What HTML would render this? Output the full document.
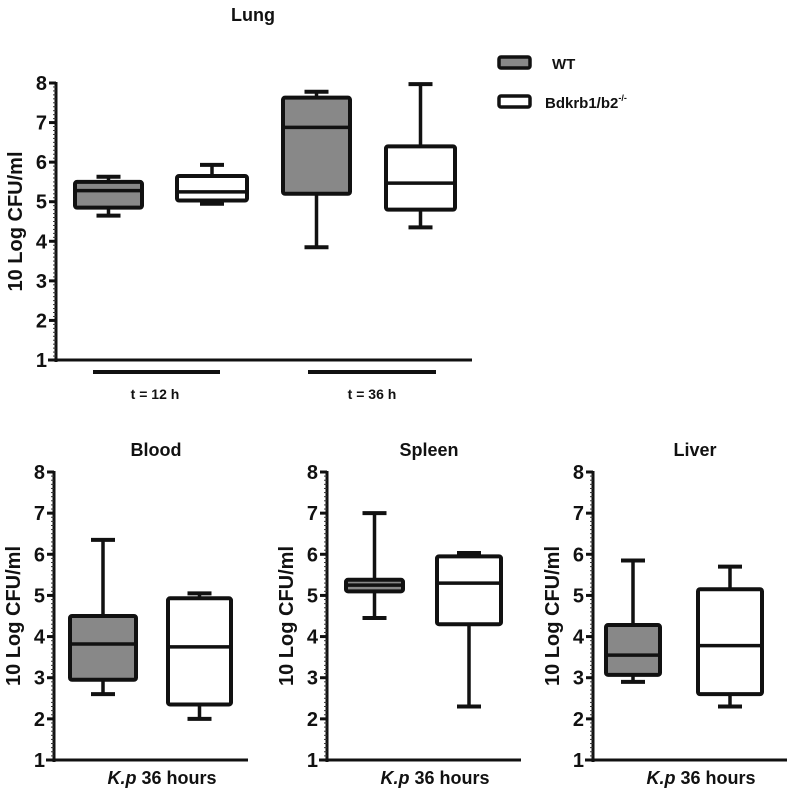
<!DOCTYPE html>
<html><head><meta charset="utf-8"><style>
body{margin:0;background:#fff;}
svg text{font-family:"Liberation Sans",Arial,sans-serif;font-weight:bold;fill:#111;}
</style></head><body>
<svg id="c" width="787" height="794" xmlns="http://www.w3.org/2000/svg"></svg>
<script>
// [min, q1, median, q3, max]
const lungGroups = ["WT 12h","KO 12h","WT 36h","KO 36h"];
const lungStats = [[4.65,4.85,5.28,5.5,5.63],[4.95,5.03,5.25,5.65,5.93],[3.85,5.2,6.88,7.63,7.78],[4.35,4.8,5.47,6.4,7.97]];
const bloodStats = [[2.6,2.95,3.82,4.5,6.35],[2.0,2.35,3.75,4.93,5.05]];
const spleenStats = [[4.45,5.1,5.25,5.38,7.0],[2.3,4.3,5.3,5.95,6.03]];
const liverStats = [[2.9,3.07,3.55,4.28,5.85],[2.3,2.6,3.78,5.15,5.7]];
const yTicks = [1,2,3,4,5,6,7,8];

const svg=document.getElementById('c');
const NS='http://www.w3.org/2000/svg';
function mk(tag,attrs,parent){const e=document.createElementNS(NS,tag);for(const k in attrs)e.setAttribute(k,attrs[k]);(parent||svg).appendChild(e);return e;}

function panel(name,cfg,stats,groupNames){
  const g=mk('g',{});
  
  
  const y=v=>cfg.y1+(cfg.y8-cfg.y1)*(v-1)/7;
  // axis
  const ax=mk('line',{x1:cfg.ax,y1:cfg.y8-1,x2:cfg.ax,y2:cfg.y1+2,stroke:'#111','stroke-width':3},g);
  
  
  const xa=mk('line',{x1:cfg.ax-8,y1:cfg.y1,x2:cfg.xEnd,y2:cfg.y1,stroke:'#111','stroke-width':3},g);
  
  
  for(let v=1;v<=8.001;v+=0.1){
    mk('line',{x1:cfg.ax-3,y1:y(v),x2:cfg.ax,y2:y(v),stroke:'#333','stroke-width':1},g);
  }
  yTicks.forEach(t=>{
    mk('line',{x1:cfg.ax-7,y1:y(t),x2:cfg.ax,y2:y(t),stroke:'#111','stroke-width':3},g);
    const tx=mk('text',{x:cfg.ax-9,y:y(t)+7,'text-anchor':'end','font-size':20},g);
    tx.textContent=t;
    
    
  });
  const yl=mk('text',{transform:`translate(${cfg.ax-34},${(cfg.y1+cfg.y8)/2}) rotate(-90)`,'text-anchor':'middle','font-size':20},g);
  yl.textContent='10 Log CFU/ml';
  
  
  const ti=mk('text',{x:cfg.titleX,y:cfg.titleY,'text-anchor':'middle','font-size':18},g);
  ti.textContent=cfg.title;
  
  
  stats.forEach((s,i)=>{
    const [x0,x1]=cfg.boxes[i];const cx=(x0+x1)/2;const fill=i%2===0?'#888':'#fff';
    const bg=mk('g',{},g);
    
    
    mk('line',{x1:cx,y1:y(s[0]),x2:cx,y2:y(s[4]),stroke:'#111','stroke-width':3.5},bg);
    mk('line',{x1:cx-12,y1:y(s[0]),x2:cx+12,y2:y(s[0]),stroke:'#111','stroke-width':4},bg);
    mk('line',{x1:cx-12,y1:y(s[4]),x2:cx+12,y2:y(s[4]),stroke:'#111','stroke-width':4},bg);
    mk('rect',{x:x0,y:y(s[3]),width:x1-x0,height:y(s[1])-y(s[3]),fill:fill,stroke:'#111','stroke-width':4,rx:2},bg);
    mk('line',{x1:x0,y1:y(s[2]),x2:x1,y2:y(s[2]),stroke:'#111','stroke-width':3.5},bg);
  });
}

panel('lung',{ax:56,xEnd:472,y8:83,y1:360,title:'Lung',titleX:253,titleY:21,
  boxes:[[75,142],[177,247],[283,350],[386,455]]},lungStats,lungGroups);
[[93,220,'t = 12 h',155],[308,436,'t = 36 h',372]].forEach((b,i)=>{
  const l=mk('line',{x1:b[0],y1:372,x2:b[1],y2:372,stroke:'#111','stroke-width':4});
  
  
  const t=mk('text',{x:b[3],y:399,'text-anchor':'middle','font-size':14});
  t.textContent=b[2];
  
  
});

const bottom=[['blood',54,bloodStats,'Blood',[[70,136],[168,231]]],
 ['spleen',327,spleenStats,'Spleen',[[346,403],[437,501]]],
 ['liver',593,liverStats,'Liver',[[606,660],[698,762]]]];
bottom.forEach(p=>{
  const ax=p[1];
  panel(p[0],{ax:ax,xEnd:ax+194,y8:472,y1:760,title:p[3],titleX:ax+102,titleY:456,boxes:p[4]},p[2]);
  const t=mk('text',{x:ax+108,y:784,'text-anchor':'middle','font-size':18});
  t.innerHTML='<tspan font-style="italic">K.p</tspan> 36 hours';
  
  
});

// legend
[['WT','#888',57,552,69],['ko','#fff',96,545,108]].forEach((l,i)=>{
  const g=mk('g',{});
  
  
  mk('rect',{x:499,y:l[2],width:31,height:11,fill:l[1],stroke:'#111','stroke-width':3.5,rx:2},g);
  const t=mk('text',{x:l[3],y:l[4],'font-size':15},g);
  if(i) t.innerHTML='Bdkrb1/b2<tspan dy="-7" font-size="9">-/-</tspan>'; else t.textContent='WT';
});
</script>
</body></html>
